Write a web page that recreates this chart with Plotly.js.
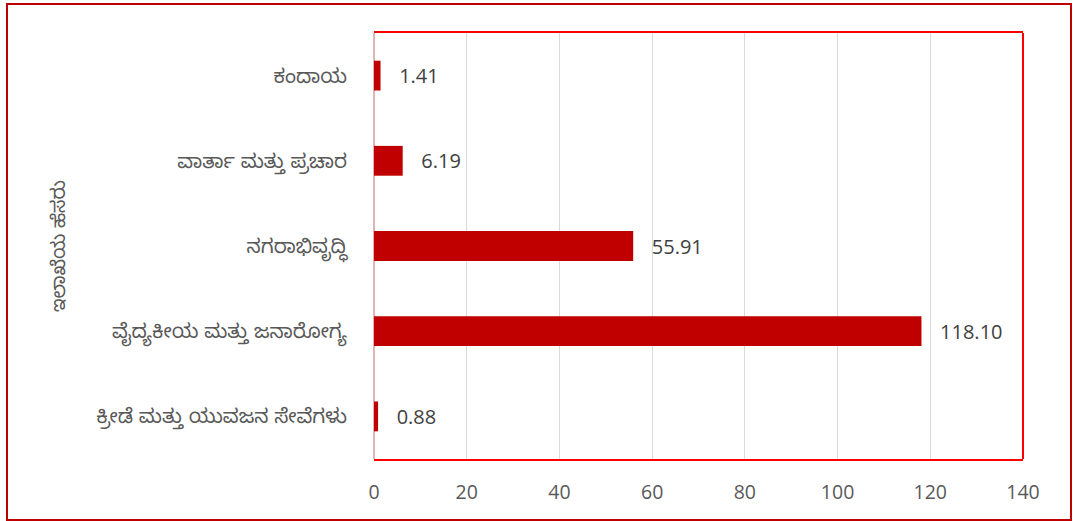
<!DOCTYPE html>
<html>
<head>
<meta charset="utf-8">
<script src="https://cdn.plot.ly/plotly-3.0.1.min.js"></script>
<style>
  html, body { margin: 0; padding: 0; background: #ffffff; }
  #chart { width: 1083px; height: 521px; position: absolute; left: 0; top: 0; }
  #frame { position: absolute; left: 6px; top: 3px; width: 1062px; height: 514px;
           border: 2px solid #c00000; pointer-events: none; }
</style>
</head>
<body>
<div id="chart"></div>
<div id="frame"></div>
<script>
// Categories listed top to bottom
const categories = [
  "ಕಂದಾಯ",
  "ವಾರ್ತಾ ಮತ್ತು ಪ್ರಚಾರ",
  "ನಗರಾಭಿವೃದ್ಧಿ",
  "ವೈದ್ಯಕೀಯ ಮತ್ತು ಜನಾರೋಗ್ಯ",
  "ಕ್ರೀಡೆ ಮತ್ತು ಯುವಜನ ಸೇವೆಗಳು"
];
const values = [1.41, 6.19, 55.91, 118.10, 0.88];
const xTicks = [0, 20, 40, 60, 80, 100, 120, 140];
const yAxisTitle = "ಇಲಾಖೆಯ ಹೆಸರು";

const kn = "'Noto Sans Kannada', 'Noto Sans', 'Open Sans', sans-serif";

const trace = {
  type: "bar",
  orientation: "h",
  y: categories,
  x: values,
  marker: { color: "#c00000" },
  texttemplate: "\u00a0\u00a0\u00a0%{x:.2f}",
  textposition: "outside",
  cliponaxis: false,
  textfont: { family: "'Open Sans', sans-serif", size: 20, color: "#404040" },
  hoverinfo: "none"
};

const layout = {
  width: 1083,
  height: 521,
  margin: { l: 374, r: 60, t: 33, b: 62 },
  paper_bgcolor: "rgba(0,0,0,0)",
  plot_bgcolor: "#ffffff",
  showlegend: false,
  bargap: 0.65,
  xaxis: {
    range: [0, 140],
    tickvals: xTicks,
    ticktext: xTicks.map(String),
    showgrid: true,
    gridcolor: "#d9d9d9",
    gridwidth: 1,
    zeroline: true,
    zerolinecolor: "#e3b3b3",
    zerolinewidth: 2,
    showline: true,
    linecolor: "#ff0000",
    linewidth: 2,
    mirror: true,
    ticks: "",
    ticklabelstandoff: 15,
    tickfont: { family: "'Open Sans', sans-serif", size: 19.5, color: "#595959" },
    fixedrange: true
  },
  yaxis: {
    autorange: "reversed",
    type: "category",
    showgrid: false,
    zeroline: false,
    showline: false,
    ticks: "",
    ticklabelstandoff: 26,
    tickfont: { family: kn, size: 20, color: "#595959" },
    fixedrange: true
  },
  shapes: [
    { type: "line", xref: "paper", yref: "paper", x0: 1, x1: 1, y0: 0, y1: 1,
      line: { color: "#ff0000", width: 2 } }
  ],
  annotations: [
    { text: yAxisTitle, xref: "paper", yref: "paper",
      x: (62 - 374) / 649, y: 0.5, xanchor: "center", yanchor: "middle",
      textangle: -90, showarrow: false,
      font: { family: kn, size: 19, color: "#595959" } }
  ]
};

Plotly.newPlot("chart", [trace], layout, { staticPlot: true, displayModeBar: false });
</script>
</body>
</html>
